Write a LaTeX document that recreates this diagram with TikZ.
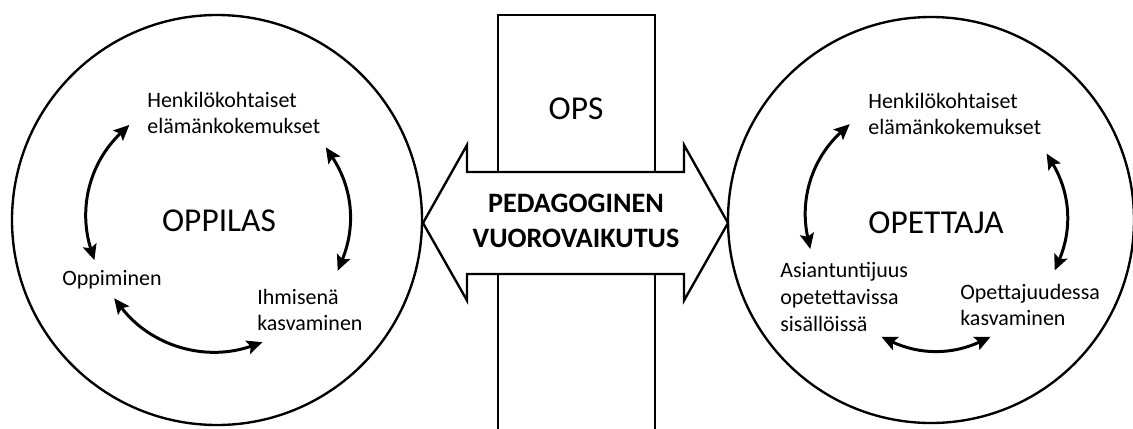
\documentclass[tikz,border=0pt]{standalone}
\usepackage{fontspec}
\setmainfont{Carlito}
\usetikzlibrary{arrows.meta}

\begin{document}
\begin{tikzpicture}[
  ring/.style={line width=1.35pt},
  cyc/.style={line width=1.7pt,{Stealth[length=3.1mm,width=2.8mm,inset=0.6mm]}-{Stealth[length=3.1mm,width=2.8mm,inset=0.6mm]}},
  small/.style={font=\fontsize{12.5}{15.3}\selectfont,align=left,anchor=west,inner sep=0pt},
  big/.style={font=\fontsize{19}{23}\selectfont,inner sep=0pt}]
\useasboundingbox (0,0) rectangle (22.66,8.56);
%\draw[step=1.0,red,thin] (0,0) grid (22,8);

% OPS column behind the arrow
\draw[ring] (9.96,-0.2) rectangle (13.10,8.26);
\node[big] (ops) at (11.52,6.38) {OPS};

% the two circles
\draw[ring] (4.34,4.16) circle (4.1);
\draw[ring] (18.62,4.16) circle (4.06);

% double arrow
\draw[ring,fill=white] (8.46,4.1) -- (9.34,5.66) -- (9.34,5.12) -- (13.68,5.12) -- (13.68,5.66)
  -- (14.56,4.1) -- (13.68,2.55) -- (13.68,3.08) -- (9.34,3.08) -- (9.34,2.55) -- cycle;
\node[font=\bfseries\fontsize{16}{19.5}\selectfont,align=center,inner sep=0pt] (vuoro) at (11.52,4.14) {PEDAGOGINEN\\VUOROVAIKUTUS};

% left circle
\node[big] (oppilas) at (4.38,4.14) {OPPILAS};
\node[small] (lhenk) at (2.94,6.3) {Henkilökohtaiset\\elämänkokemukset};
\node[small] (loppi) at (1.24,2.97) {Oppiminen};
\node[small] (lihmi) at (5.14,2.36) {Ihmisenä\\kasvaminen};

\coordinate (lc) at (4.36,4.16);
\path (lc) ++(133:2.6) coordinate (la1);
\path (lc) ++(198:2.6) coordinate (la2);
\path (lc) ++(-23:2.6) coordinate (lb1);
\path (lc) ++(34:2.6) coordinate (lb2);
\path (lc) ++(217:2.6) coordinate (lc1);
\path (lc) ++(290:2.6) coordinate (lc2);

\draw[cyc] (la1) to[bend right=32] (la2);
\draw[cyc] (lb1) to[bend right=28] (lb2);
\draw[cyc] (lc1) to[bend right=36] (lc2);

% right circle
\node[big] (opettaja) at (18.72,4.1) {OPETTAJA};
\node[small] (rhenk) at (17.36,6.28) {Henkilökohtaiset\\elämänkokemukset};
\node[small] (rasia) at (15.6,2.62) {Asiantuntijuus\\opetettavissa\\sisällöissä};
\node[small] (rkasv) at (19.2,2.46) {Opettajuudessa\\kasvaminen};

\coordinate (rc) at (18.72,4.16);
\path (rc) ++(132:2.58) coordinate (ra1);
\path (rc) ++(193:2.58) coordinate (ra2);
\path (rc) ++(-23:2.58) coordinate (rb1);
\path (rc) ++(31:2.58) coordinate (rb2);
\path (rc) ++(245:2.58) coordinate (rc1);
\path (rc) ++(295:2.58) coordinate (rc2);

\draw[cyc] (ra1) to[bend right=30] (ra2);
\draw[cyc] (rb1) to[bend right=27] (rb2);
\draw[cyc] (rc1) to[bend right=25] (rc2);

\end{tikzpicture}
\end{document}
